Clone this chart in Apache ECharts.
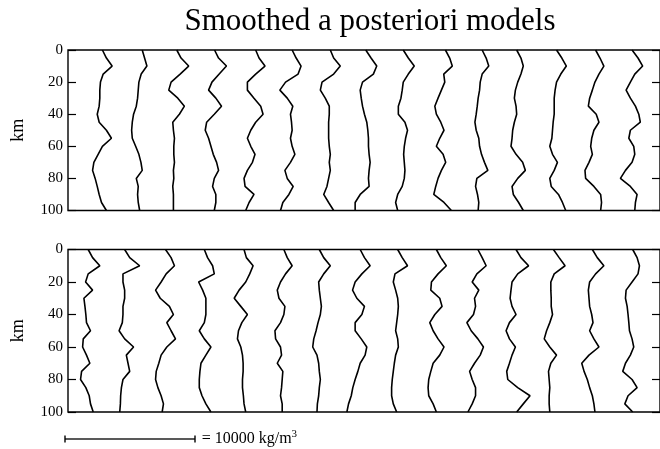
<!DOCTYPE html>
<html>
<head>
<meta charset="utf-8">
<script src="https://cdn.jsdelivr.net/npm/echarts@6.0.0/dist/echarts.min.js"></script>
<style>
html, body { margin: 0; background: #fff; }
#chartBox { width: 660px; height: 449px; }
</style>
</head>
<body>
<div id="chartBox"></div>
<script>
// depth of each sample (km)
var depthKm = [0, 5, 10, 15, 20, 25, 30, 35, 40, 45, 50, 55, 60, 65, 70, 75, 80, 85, 90, 95, 100]
var depthTicks = [0, 20, 40, 60, 80, 100]
// horizontal shift between two plotted models (kg/m3)
var modelSpacing = 2940
// length of the scale bar (kg/m3)
var scaleBarLength = 10000

// density of each model relative to its plotting position, kg/m3, upper panel
var upperModels = [
  [200, 510, 950, 260, 50, 0, 0, -50, -200, -50, 510, 900, 200, -130, -460, -560, -360, -200, -50, 130, 510],
  [340, 520, 700, 260, 80, 30, -20, -120, -330, -430, -480, -430, -170, 80, 240, 340, -120, 30, -20, 30, 140],
  [70, 400, 990, 330, -370, -550, 150, 660, 270, -240, -190, -110, -160, -160, -110, -190, -160, -240, -190, -190, -190],
  [50, 360, 970, 410, -150, -410, 150, 590, 30, -560, -670, -410, -230, -50, 210, 360, 30, -100, 150, 150, 30],
  [290, 550, 1010, 290, -350, -350, 160, 680, 860, 290, -90, -350, -90, 240, 40, -350, -610, -530, 160, -220, -480],
  [170, 480, 860, 630, -340, -780, -210, 220, 40, 120, 170, 40, 170, 380, 40, -390, -210, 250, -80, -550, -730],
  [180, 440, 950, 440, -460, -590, -210, 100, 100, 50, 50, 50, 100, 180, 100, 180, 50, -80, -330, 50, 440],
  [-20, 390, 830, 570, -270, -450, -370, -270, -120, 60, 140, 190, 190, 240, 320, 240, 190, 240, -450, -840, -840],
  [-60, 330, 790, 330, -60, -140, -240, -440, -440, 70, 270, 120, 20, -30, 20, 70, 20, -140, -490, -650, -490],
  [260, 590, 790, 130, 210, -50, -310, -560, -440, -100, 150, -180, -440, 80, 280, -50, -310, -490, -640, 150, 720],
  [160, 470, 670, 160, 10, -40, -150, -220, -300, -400, -300, -100, -40, 110, 340, 600, -250, -350, -200, -100, -150],
  [-110, 220, 400, 220, -30, -210, -290, -160, -110, -290, -420, -470, -550, -160, 350, 560, -30, -470, -370, 40, 400],
  [30, 440, 790, 360, 30, -80, -150, -150, -150, -230, -280, -330, -490, -280, 100, -150, -490, -380, 180, 490, 740],
  [110, 450, 750, 370, 60, -140, -350, -450, 160, 370, -20, -190, -270, -140, -400, -710, -660, -20, 500, 570, 500],
  [-10, 450, 810, 200, -140, -470, -140, 250, 510, 630, -140, -260, 120, 200, -10, -520, -910, -140, 380, 250, 200]
]

// same, lower panel
var lowerModels = [
  [-900, -560, 0, -900, -1100, -560, -1230, -1150, -1080, -1030, -720, -1280, -1330, -1030, -770, -1410, -1490, -1080, -820, -720, -510],
  [-1020, -630, 140, -1150, -1150, -1020, -1020, -1150, -1150, -1200, -1450, -1020, -330, -890, -760, -630, -1150, -1270, -1330, -1350, -1400],
  [-800, -370, -110, -750, -1140, -1570, -1210, -500, -190, -700, -370, -30, -700, -1140, -1320, -1520, -1570, -1390, -1140, -960, -1060],
  [-740, -490, -100, 30, -1180, -870, -620, -620, -620, -740, -1130, -740, -230, -620, -1000, -1080, -1130, -1130, -920, -620, -230],
  [-610, -430, 90, -170, -480, -990, -1370, -860, -350, -780, -1040, -1120, -860, -730, -680, -680, -730, -730, -660, -610, -480],
  [-470, -210, 170, -340, -730, -980, -850, -390, -470, -730, -1160, -1110, -730, -650, -980, -550, -600, -650, -730, -600, -600],
  [-670, -330, 180, -330, -720, -670, -590, -510, -590, -770, -920, -1100, -1180, -850, -720, -670, -590, -670, -720, -820, -850],
  [-450, -120, 320, -320, -840, -1040, -710, -120, -320, -840, -840, -370, 60, -70, -450, -630, -840, -1020, -1140, -1350, -1480],
  [-490, -140, 270, -700, -830, -650, -490, -440, -490, -570, -650, -490, -440, -650, -750, -830, -910, -960, -960, -830, -570],
  [-440, -100, 330, -310, -820, -870, -180, 0, -560, -950, -690, -310, 150, -180, -690, -870, -1030, -1080, -1030, -690, -440],
  [-170, 160, 470, -250, -610, -100, -430, -350, -510, -1020, -690, -170, 260, 10, -430, -810, -610, -350, -350, -610, -940],
  [-160, 220, 810, -30, -470, -550, -620, -470, -160, -670, -930, -670, -210, -470, -670, -880, -800, -30, 920, 400, -110],
  [-210, 230, 690, -150, -410, -410, -380, -380, -280, -490, -740, -920, -490, 30, -410, -590, -540, -490, -540, -540, -490],
  [-140, 240, 750, 110, -350, -450, -400, -350, -190, -90, -350, -20, 370, -400, -960, -780, -530, -350, -140, -20, 60],
  [40, 380, 560, 450, -10, -470, -520, -390, -320, -260, -210, -10, 120, -140, -520, -730, -10, 380, -320, -570, 40]
]

var serif = '"Liberation Serif", "Times New Roman", serif'

function depthAxes(gridIndex) {
  return [
    {
      type: 'value',
      gridIndex: gridIndex,
      inverse: true,
      min: depthTicks[0],
      max: depthTicks[depthTicks.length - 1],
      interval: depthTicks[1] - depthTicks[0],
      name: 'km',
      nameLocation: 'middle',
      nameGap: 41,
      nameTextStyle: { fontFamily: serif, fontSize: 18, color: '#000' },
      axisLine: { show: false, onZero: false },
      axisTick: { inside: true, length: 8, lineStyle: { color: '#000', width: 1.2 } },
      axisLabel: { fontFamily: serif, fontSize: 15, color: '#000', margin: 5 },
      splitLine: { show: false }
    },
    {
      type: 'value',
      gridIndex: gridIndex,
      position: 'right',
      inverse: true,
      min: depthTicks[0],
      max: depthTicks[depthTicks.length - 1],
      interval: depthTicks[1] - depthTicks[0],
      axisLine: { show: false, onZero: false },
      axisTick: { inside: true, length: 8, lineStyle: { color: '#000', width: 1.2 } },
      axisLabel: { show: false },
      splitLine: { show: false }
    }
  ]
}

function densityAxis(gridIndex) {
  return {
    type: 'value',
    gridIndex: gridIndex,
    min: -2460,
    max: 43310,
    show: false
  }
}

function modelSeries(models, panel) {
  return models.map(function (model, i) {
    return {
      type: 'line',
      xAxisIndex: panel,
      yAxisIndex: panel * 2,
      showSymbol: false,
      silent: true,
      lineStyle: { color: '#000', width: 1.6 },
      data: model.map(function (v, k) {
        return [i * modelSpacing + v, depthKm[k]]
      })
    }
  })
}

var myChart = echarts.init(document.getElementById('chartBox'))
myChart.setOption({
  animation: false,
  title: {
    text: 'Smoothed a posteriori models',
    left: 365,
    top: 1,
    textAlign: 'center',
    textStyle: { fontFamily: serif, fontSize: 31, fontWeight: 'normal', color: '#000' }
  },
  grid: [
    { left: 68, right: -3, top: 50, height: 160.5, show: true, borderColor: '#000', borderWidth: 1.4 },
    { left: 68, right: -3, top: 249.5, height: 162.5, show: true, borderColor: '#000', borderWidth: 1.4 },
    { left: 65, width: 130, top: 434, height: 10 }
  ],
  xAxis: [
    densityAxis(0),
    densityAxis(1),
    { type: 'value', gridIndex: 2, min: 0, max: scaleBarLength, show: false }
  ],
  yAxis: depthAxes(0).concat(depthAxes(1)).concat([
    { type: 'value', gridIndex: 2, min: -1, max: 1, show: false }
  ]),
  series: modelSeries(upperModels, 0)
    .concat(modelSeries(lowerModels, 1))
    .concat([
      {
        type: 'line',
        xAxisIndex: 2,
        yAxisIndex: 4,
        silent: true,
        symbol: 'rect',
        symbolSize: [1.4, 7],
        itemStyle: { color: '#000' },
        lineStyle: { color: '#222', width: 1.3 },
        data: [
          [0, 0],
          {
            value: [scaleBarLength, 0],
            label: {
              show: true,
              position: 'right',
              distance: 6,
              formatter: '= 10000 kg/m{s|3}',
              fontFamily: serif,
              fontSize: 16,
              color: '#000',
              rich: {
                s: { fontFamily: serif, fontSize: 11, color: '#000', padding: [0, 0, 10, 0] }
              }
            }
          }
        ]
      }
    ])
})
</script>
</body>
</html>
